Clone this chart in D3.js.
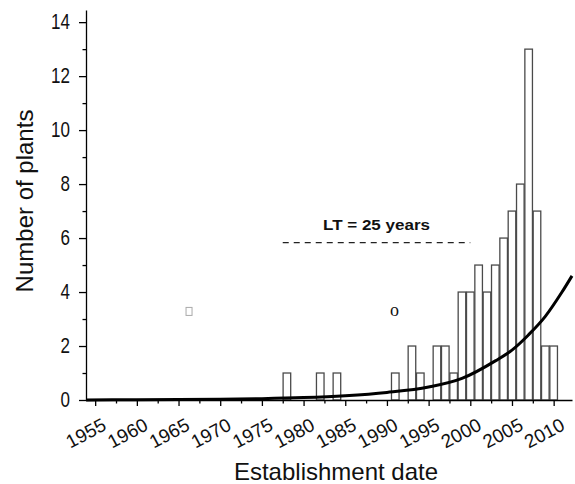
<!DOCTYPE html>
<html>
<head>
<meta charset="utf-8">
<script src="https://cdn.jsdelivr.net/npm/d3@7"></script>
<style>
  body { margin: 0; background: #fff; }
  svg { display: block; }
  text { font-family: "Liberation Sans", Arial, sans-serif; fill: #111; }
</style>
</head>
<body>
<svg id="chart"></svg>
<script>
// establishment year of each bar and number of plants
const years = [1978, 1982, 1984, 1991, 1993, 1994, 1996, 1997, 1998, 1999, 2000,
               2001, 2002, 2003, 2004, 2005, 2006, 2007, 2008, 2009, 2010];
const counts = [1, 1, 1, 1, 2, 1, 2, 2, 1, 4, 4,
                5, 4, 5, 6, 7, 8, 13, 7, 2, 2];

// fitted curve
const fitYears = [1953.9, 1960, 1965, 1970, 1975, 1980, 1985, 1990, 1995, 1999, 2003, 2005, 2007, 2009, 2011, 2012.2];
const fitValues = [0.004, 0.008, 0.015, 0.028, 0.05, 0.09, 0.16, 0.28, 0.48, 0.8, 1.45, 1.85, 2.42, 3.1, 4.0, 4.6];

const xTicks = d3.range(1955, 2011, 5);
const xMinor = d3.range(1957.5, 2010, 5);
const yTicks = [0, 2, 4, 6, 8, 10, 12, 14];
const yMinor = [1, 3, 5, 7, 9, 11, 13];

const ltLabel = "LT = 25 years";
const ltSpan = [1977.5, 2000];
const ltLevel = 5.83;

const config = {
  containerWidth: 575,
  containerHeight: 484,
  margin: { top: 10, bottom: 84, right: 3, left: 86 }
};

const width = config.containerWidth - config.margin.left - config.margin.right;
const height = config.containerHeight - config.margin.top - config.margin.bottom;

const svg = d3.select('#chart')
    .attr('width', config.containerWidth)
    .attr('height', config.containerHeight);

const chart = svg.append('g')
    .attr('transform', `translate(${config.margin.left},${config.margin.top})`);

const xScale = d3.scaleLinear()
    .domain([1953.9, 2012.2])
    .range([0, width]);

const yScale = d3.scaleLinear()
    .domain([0, 14.45])
    .range([height, 0]);

// bars
const half = 0.455;
chart.selectAll('.bar')
    .data(years)
    .join('rect')
      .attr('class', 'bar')
      .attr('x', d => xScale(d - half))
      .attr('width', d => xScale(d + half) - xScale(d - half))
      .attr('y', (d, i) => yScale(counts[i]))
      .attr('height', (d, i) => yScale(0) - yScale(counts[i]))
      .attr('fill', '#fff')
      .attr('stroke', '#4a4a4a')
      .attr('stroke-width', 1.3);

// fitted curve
const fitLine = d3.line()
    .x(d => xScale(d[0]))
    .y(d => yScale(d[1]))
    .curve(d3.curveMonotoneX);

chart.append('path')
    .datum(fitYears.map((d, i) => [d, fitValues[i]]))
    .attr('fill', 'none')
    .attr('stroke', '#000')
    .attr('stroke-width', 3)
    .attr('d', fitLine);

// x axis
const xAxis = d3.axisBottom(xScale).tickValues(xTicks).tickSize(6).tickSizeOuter(0).tickFormat('');
const xAxisMinor = d3.axisBottom(xScale).tickValues(xMinor).tickSize(3.5).tickSizeOuter(0).tickFormat('');

const xg = chart.append('g')
    .attr('transform', `translate(0,${height})`)
    .call(xAxis);
chart.append('g')
    .attr('transform', `translate(0,${height})`)
    .call(xAxisMinor)
    .select('.domain').remove();

xg.selectAll('.tick')
  .append('text')
    .attr('text-anchor', 'end')
    .attr('transform', 'translate(12,29) rotate(-28)')
    .style('font-size', '19px')
    .text(d => d);

// y axis
const yAxis = d3.axisLeft(yScale).tickValues(yTicks).tickSize(7).tickPadding(9).tickSizeOuter(0);
const yAxisMinor = d3.axisLeft(yScale).tickValues(yMinor).tickSize(3.5).tickSizeOuter(0).tickFormat('');

const yg = chart.append('g').call(yAxis);
chart.append('g').call(yAxisMinor).select('.domain').remove();

yg.selectAll('.tick text')
    .attr('font-family', null)
    .attr('font-size', null)
    .style('font-size', '17px')
    .attr('transform', 'scale(1,1.25)');

chart.selectAll('.domain, .tick line')
    .attr('stroke', '#000')
    .attr('stroke-width', 1.3);

// LT annotation
chart.append('line')
    .attr('x1', xScale(ltSpan[0]))
    .attr('x2', xScale(ltSpan[1]))
    .attr('y1', yScale(ltLevel))
    .attr('y2', yScale(ltLevel))
    .attr('stroke', '#222')
    .attr('stroke-width', 1.2)
    .attr('stroke-dasharray', '6,5');

chart.append('text')
    .attr('x', xScale((ltSpan[0] + ltSpan[1]) / 2))
    .attr('y', yScale(6.3))
    .attr('text-anchor', 'middle')
    .attr('font-weight', 'bold')
    .attr('textLength', 107)
    .attr('lengthAdjust', 'spacingAndGlyphs')
    .style('font-size', '15px')
    .text(ltLabel);

// stray glyphs in the figure
chart.append('rect')
    .attr('x', xScale(1965.9))
    .attr('y', yScale(3.43))
    .attr('width', 6)
    .attr('height', 8)
    .attr('fill', 'none')
    .attr('stroke', '#aaa')
    .attr('stroke-width', 1);

chart.append('text')
    .attr('x', xScale(1990.9))
    .attr('y', yScale(3.1))
    .attr('text-anchor', 'middle')
    .style('font-family', '"Liberation Serif", serif')
    .style('font-size', '18px')
    .text('o');

// axis titles
svg.append('text')
    .attr('x', 336)
    .attr('y', 480)
    .attr('text-anchor', 'middle')
    .style('font-size', '24px')
    .text('Establishment date');

svg.append('text')
    .attr('transform', 'translate(33,201) rotate(-90)')
    .attr('text-anchor', 'middle')
    .style('font-size', '24px')
    .text('Number of plants');
</script>
</body>
</html>
